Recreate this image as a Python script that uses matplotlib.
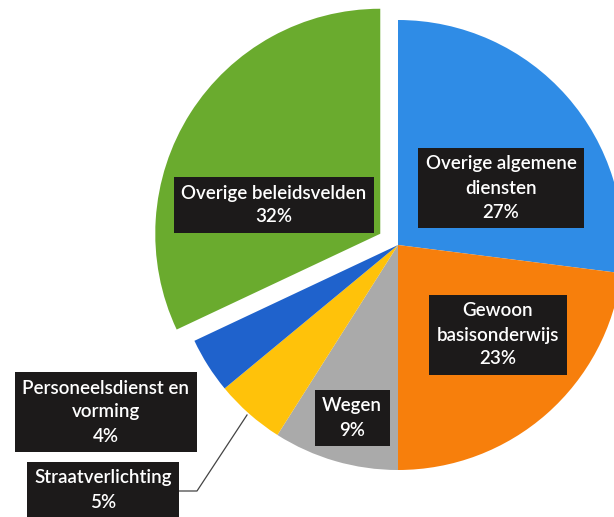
import matplotlib.pyplot as plt

categories = ['Overige algemene\ndiensten', 'Gewoon\nbasisonderwijs', 'Wegen',
              'Straatverlichting', 'Personeelsdienst en\nvorming', 'Overige beleidsvelden']
values = [27, 23, 9, 5, 4, 32]

colors = ['#2f8ce6', '#f77f0c', '#aaaaaa', '#ffc20a', '#1f62cc', '#6aab2e']

# label box centres in pixel coords (y measured from the top)
label_pos = [(501, 188), (498, 335), (352, 418), (103, 490), (106, 412), (274, 205)]

W, H = 614, 517
fig = plt.figure(figsize=(W / 100, H / 100), dpi=100)
ax = fig.add_axes([0, 0, 1, 1])

cx, cy, r = 398, H - 245, 225
# matplotlib adds explode straight to the centre, so it is in data units here
explode = [0, 0, 0, 0, 0, 21]
ax.pie(values, colors=colors, explode=explode, startangle=90, counterclock=False,
       center=(cx, cy), radius=r, frame=True,
       wedgeprops=dict(linewidth=0))
ax.set_xlim(0, W)
ax.set_ylim(0, H)
ax.set_aspect('equal')
ax.axis('off')

# leader line for Straatverlichting
ax.plot([178, 197, 247], [H - 491, H - 491, H - 415], color='#444444', lw=0.9, zorder=3)

for cat, v, (x, y) in zip(categories, values, label_pos):
    ax.text(x, H - y, f'{cat}\n{v}%', ha='center', va='center', color='white',
            fontsize=13.5, family='Lato', weight='semibold', linespacing=1.5, zorder=5,
            bbox=dict(boxstyle='square,pad=0.4', fc='#1c1a1a', ec='none'))

fig.savefig('out.png', dpi=100)
